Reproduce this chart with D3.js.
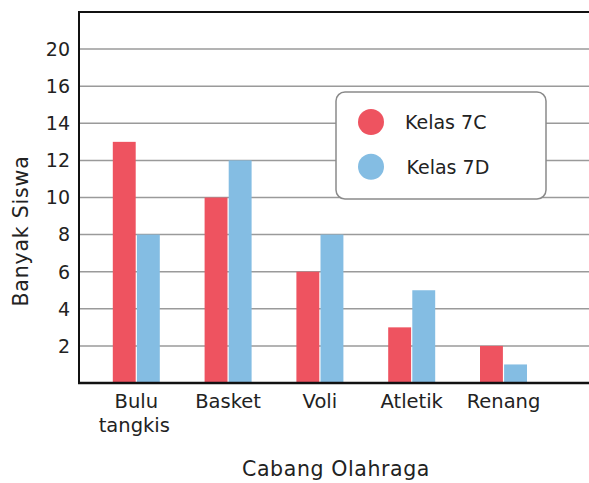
<!DOCTYPE html>
<html>
<head>
<meta charset="utf-8">
<script src="https://cdn.jsdelivr.net/npm/d3@7"></script>
<style>
  body { margin: 0; background: #fff; }
  svg { display: block; font-family: "DejaVu Sans", sans-serif; }
</style>
</head>
<body>
<div id="chart"></div>
<script>
const categories = ["Bulu tangkis", "Basket", "Voli", "Atletik", "Renang"];
const seriesNames = ["Kelas 7C", "Kelas 7D"];
const kelas7C = [13, 10, 6, 3, 2];
const kelas7D = [8, 12, 8, 5, 1];
const tickValues = [2, 4, 6, 8, 10, 12, 14, 16, 18];
const tickLabels = ["2", "4", "6", "8", "10", "12", "14", "16", "20"];
const colors = ["#ee5360", "#84bde3"];

const width = 589, height = 483;
const margin = { top: 12, right: 0, bottom: 100, left: 80 };

const svg = d3.select("#chart")
  .append("svg")
  .attr("width", width)
  .attr("height", height);

const y = d3.scaleLinear()
  .domain([0, 20])
  .range([383, 12]);

const x = d3.scaleBand()
  .domain(categories)
  .range([90.4, 549.4])
  .paddingInner(0.488)
  .paddingOuter(0.244);

const xInner = d3.scaleBand()
  .domain(seriesNames)
  .range([0, x.bandwidth()])
  .paddingInner(0.05);

// gridlines
svg.append("g")
  .selectAll("line")
  .data(tickValues)
  .join("line")
  .attr("x1", margin.left)
  .attr("x2", width)
  .attr("y1", d => y(d))
  .attr("y2", d => y(d))
  .attr("stroke", "#9a9a9a")
  .attr("stroke-width", 1.5);

// y tick labels
svg.append("g")
  .selectAll("text")
  .data(tickValues)
  .join("text")
  .attr("x", 70)
  .attr("y", d => y(d))
  .attr("dy", "0.36em")
  .attr("text-anchor", "end")
  .attr("font-size", 19)
  .attr("fill", "#222")
  .text((d, i) => tickLabels[i]);

// bars
const rows = categories.map((c, i) => ({ cat: c, values: [kelas7C[i], kelas7D[i]] }));
const groups = svg.append("g")
  .selectAll("g")
  .data(rows)
  .join("g")
  .attr("transform", d => `translate(${x(d.cat)},0)`);

groups.selectAll("rect")
  .data(d => d.values.map((v, j) => ({ key: seriesNames[j], value: v, j })))
  .join("rect")
  .attr("x", d => xInner(d.key))
  .attr("width", xInner.bandwidth())
  .attr("y", d => y(d.value))
  .attr("height", d => y(0) - y(d.value))
  .attr("fill", d => colors[d.j]);

// frame: left axis, top and bottom lines
svg.append("line")
  .attr("x1", 79).attr("x2", 79)
  .attr("y1", 11).attr("y2", y(0) + 1)
  .attr("stroke", "#111").attr("stroke-width", 2);
svg.append("line")
  .attr("x1", 78).attr("x2", width)
  .attr("y1", 12).attr("y2", 12)
  .attr("stroke", "#111").attr("stroke-width", 2);
svg.append("line")
  .attr("x1", 78).attr("x2", width)
  .attr("y1", y(0)).attr("y2", y(0))
  .attr("stroke", "#111").attr("stroke-width", 2.5);

// x labels
svg.append("g")
  .selectAll("text")
  .data(categories)
  .join("text")
  .attr("y", 408)
  .attr("text-anchor", "middle")
  .attr("font-size", 19.5)
  .attr("fill", "#222")
  .each(function(d) {
    const words = d.split(" ");
    words.forEach((w, k) => {
      d3.select(this).append("tspan")
        .attr("x", x(d) + x.bandwidth() / 2 - k * 2)
        .attr("dy", k === 0 ? 0 : 24)
        .text(w);
    });
  });

// axis titles
svg.append("text")
  .attr("x", 336)
  .attr("y", 476)
  .attr("text-anchor", "middle")
  .attr("font-size", 20.5)
  .attr("letter-spacing", 0.6)
  .attr("fill", "#222")
  .text("Cabang Olahraga");

svg.append("text")
  .attr("transform", "translate(28,231) rotate(-90)")
  .attr("text-anchor", "middle")
  .attr("font-size", 20.5)
  .attr("letter-spacing", 0.8)
  .attr("fill", "#222")
  .text("Banyak Siswa");

// legend
const legend = svg.append("g");
legend.append("rect")
  .attr("x", 336).attr("y", 92)
  .attr("width", 210).attr("height", 107)
  .attr("rx", 9)
  .attr("fill", "#fff")
  .attr("stroke", "#8a8a8a")
  .attr("stroke-width", 1.5);

seriesNames.forEach((name, i) => {
  legend.append("circle")
    .attr("cx", 371)
    .attr("cy", 122 + i * 44.7)
    .attr("r", 13)
    .attr("fill", colors[i]);
  legend.append("text")
    .attr("x", 405 + i * 1.5)
    .attr("y", 122 + i * 44.7)
    .attr("dy", "0.36em")
    .attr("font-size", 19)
    .attr("fill", "#222")
    .text(name);
});
</script>
</body>
</html>
